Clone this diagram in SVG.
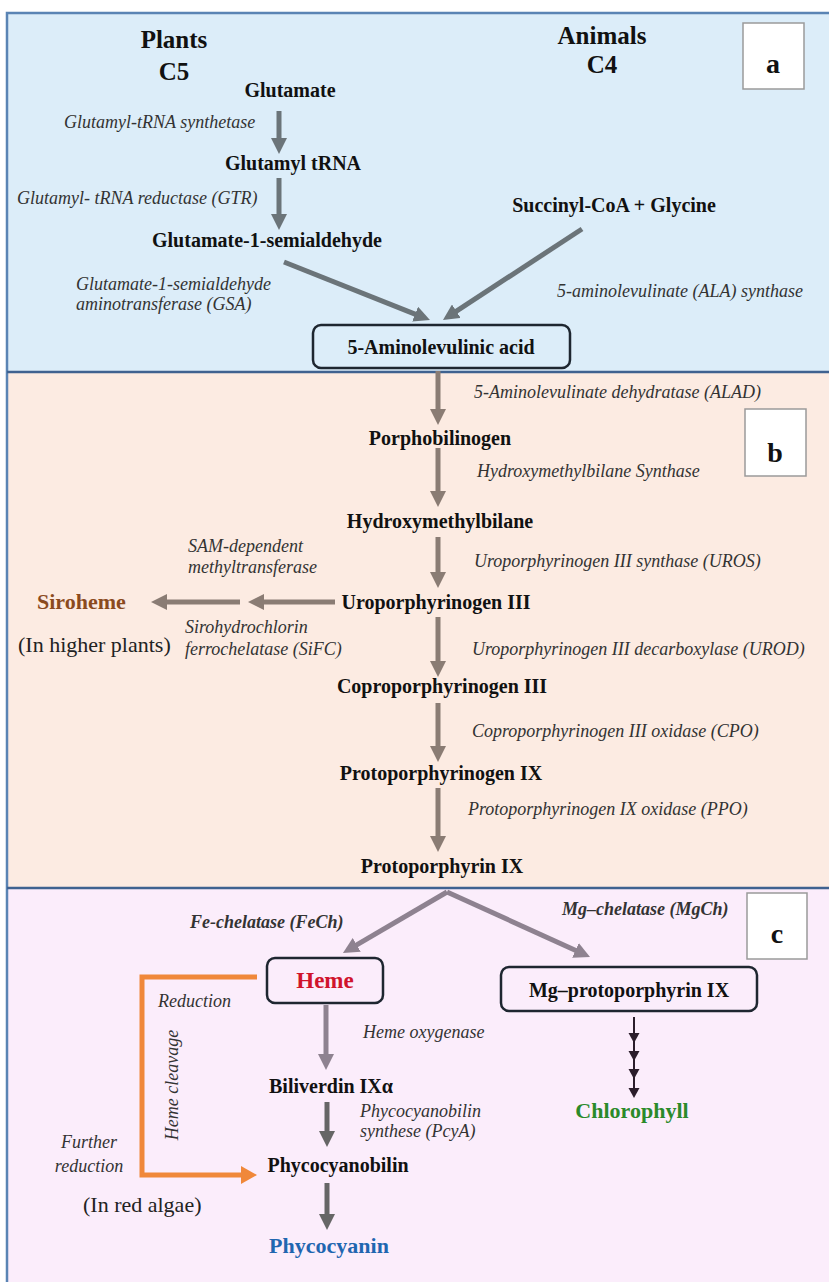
<svg xmlns="http://www.w3.org/2000/svg" width="829" height="1282" viewBox="0 0 829 1282">
<style>
text{font-family:"Liberation Serif","Tinos","Nimbus Roman","Times New Roman","DejaVu Serif",serif;}
.b{font-weight:bold;font-size:20px;fill:#111;}
.m{text-anchor:middle;}
.i{font-style:italic;font-size:18px;fill:#333;}
.r{font-size:22px;fill:#222;}
.hd{font-weight:bold;font-size:25px;fill:#111;text-anchor:middle;}
.lt{font-weight:bold;font-size:28px;fill:#111;text-anchor:middle;}
.lbox{fill:#fff;stroke:#9a9a9a;stroke-width:1.5;}
.nbox{stroke:#1e2630;stroke-width:2.5;}
.ga{stroke:#6b7479;stroke-width:5;fill:none;marker-end:url(#hg);}
.ba{stroke:#8a7c74;stroke-width:5;fill:none;marker-end:url(#hb);}
.pa{stroke:#8e8290;stroke-width:5;fill:none;marker-end:url(#hp);}
.da{stroke:#666;stroke-width:5;fill:none;marker-end:url(#hd);}
.oa{stroke:#f0883a;stroke-width:5;fill:none;marker-end:url(#ho);}
</style>
<defs>
<marker id="hg" markerUnits="userSpaceOnUse" markerWidth="16" markerHeight="16" refX="4" refY="8" orient="auto"><path d="M0,0 L16,8 L0,16 z" fill="#6b7479"/></marker>
<marker id="hb" markerUnits="userSpaceOnUse" markerWidth="16" markerHeight="16" refX="4" refY="8" orient="auto"><path d="M0,0 L16,8 L0,16 z" fill="#8a7c74"/></marker>
<marker id="hp" markerUnits="userSpaceOnUse" markerWidth="16" markerHeight="16" refX="4" refY="8" orient="auto"><path d="M0,0 L16,8 L0,16 z" fill="#8e8290"/></marker>
<marker id="hd" markerUnits="userSpaceOnUse" markerWidth="16" markerHeight="16" refX="4" refY="8" orient="auto"><path d="M0,0 L16,8 L0,16 z" fill="#666"/></marker>
<marker id="ho" markerUnits="userSpaceOnUse" markerWidth="16" markerHeight="18" refX="4" refY="9" orient="auto"><path d="M0,0 L16,9 L0,18 z" fill="#f0883a"/></marker>
</defs>

<g id="panels">
<rect x="7" y="13" width="824" height="359" fill="#dcedf9"/>
<rect x="7" y="372" width="824" height="516" fill="#fcebe2"/>
<rect x="7" y="888" width="824" height="400" fill="#fbedfb"/>
<path d="M7,1290 L7,13 L831,13" fill="none" stroke="#5a84b4" stroke-width="2.5"/>
<line x1="7" y1="372" x2="831" y2="372" stroke="#3f6290" stroke-width="2.5"/>
<line x1="7" y1="888" x2="831" y2="888" stroke="#3f6290" stroke-width="2.5"/>
</g>

<g id="connectors">
<line class="ga" x1="279" y1="111" x2="279" y2="142"/>
<line class="ga" x1="279" y1="178" x2="279" y2="218"/>
<line class="ga" x1="284" y1="262" x2="418.8" y2="315.6"/>
<line class="ga" x1="582" y1="229" x2="453" y2="313.4"/>
<line class="ba" x1="438" y1="371" x2="438" y2="413"/>
<line class="ba" x1="438" y1="448" x2="438" y2="495"/>
<line class="ba" x1="438" y1="537" x2="438" y2="576"/>
<line class="ba" x1="438" y1="617" x2="438" y2="665"/>
<line class="ba" x1="438" y1="703" x2="438" y2="750"/>
<line class="ba" x1="438" y1="788" x2="438" y2="840"/>
<line class="ba" x1="335" y1="602" x2="260" y2="602"/>
<line class="ba" x1="240" y1="602" x2="163" y2="602"/>
<path class="pa" d="M447,892 L353.3,946.9"/>
<path class="pa" d="M447,892 L579.1,952"/>
<line class="pa" x1="326" y1="1005" x2="326" y2="1058"/>
<line class="da" x1="327" y1="1102" x2="327" y2="1135"/>
<line class="da" x1="327" y1="1183" x2="327" y2="1218"/>
<polyline class="oa" points="257,977 142,977 142,1175 245,1175"/>
<line x1="634" y1="1017" x2="634" y2="1094" stroke="#2b1d2b" stroke-width="2"/>
<g fill="#2b1d2b">
<polygon points="628.5,1033 639.5,1033 634,1043"/>
<polygon points="628.5,1051 639.5,1051 634,1061"/>
<polygon points="628.5,1069 639.5,1069 634,1079"/>
<polygon points="628.5,1088 639.5,1088 634,1098"/>
</g>
</g>

<g id="headers">
<text class="hd" x="174" y="48">Plants</text>
<text class="hd" x="174" y="80">C5</text>
<text class="hd" x="602" y="44">Animals</text>
<text class="hd" x="602" y="73">C4</text>
</g>
<g id="label-a"><rect class="lbox" x="743" y="23" width="61" height="66"/><text class="lt" x="773" y="73">a</text></g>
<g id="label-b"><rect class="lbox" x="745" y="409" width="61" height="67"/><text class="lt" x="775" y="462">b</text></g>
<g id="label-c"><rect class="lbox" x="747" y="893" width="60" height="66"/><text class="lt" x="777" y="943">c</text></g>

<g id="glutamate"><text class="b m" x="290" y="97">Glutamate</text></g>
<g id="glutamyl-trna"><text class="b m" x="293" y="170">Glutamyl tRNA</text></g>
<g id="gsa-node"><text class="b m" x="267" y="247">Glutamate-1-semialdehyde</text></g>
<g id="succinyl"><text class="b m" x="614" y="212">Succinyl-CoA + Glycine</text></g>
<g id="ala"><rect class="nbox" x="313" y="325" width="257" height="43" rx="8" fill="#dcedf9"/><text class="b m" x="441" y="354">5-Aminolevulinic acid</text></g>
<g id="enz-a">
<text class="i" x="64" y="128">Glutamyl-tRNA synthetase</text>
<text class="i" x="17" y="204">Glutamyl- tRNA reductase (GTR)</text>
<text class="i" x="76" y="290">Glutamate-1-semialdehyde</text>
<text class="i" x="76" y="310">aminotransferase (GSA)</text>
<text class="i" x="557" y="297">5-aminolevulinate (ALA) synthase</text>
</g>

<g id="porphobilinogen"><text class="b m" x="440" y="445">Porphobilinogen</text></g>
<g id="hydroxymethylbilane"><text class="b m" x="440" y="528">Hydroxymethylbilane</text></g>
<g id="uroporphyrinogen"><text class="b m" x="436" y="609">Uroporphyrinogen III</text></g>
<g id="coproporphyrinogen"><text class="b m" x="442" y="693">Coproporphyrinogen III</text></g>
<g id="protoporphyrinogen"><text class="b m" x="441" y="780">Protoporphyrinogen IX</text></g>
<g id="protoporphyrin"><text class="b m" x="442" y="873">Protoporphyrin IX</text></g>
<g id="siroheme">
<text class="b" x="37" y="609" style="fill:#8b4a1e;font-size:22px">Siroheme</text>
<text class="r" x="18" y="652">(In higher plants)</text>
</g>
<g id="enz-b">
<text class="i" x="474" y="398">5-Aminolevulinate dehydratase (ALAD)</text>
<text class="i" x="477" y="477">Hydroxymethylbilane Synthase</text>
<text class="i" x="474" y="567">Uroporphyrinogen III synthase (UROS)</text>
<text class="i" x="188" y="552">SAM-dependent</text>
<text class="i" x="188" y="573">methyltransferase</text>
<text class="i" x="185" y="633">Sirohydrochlorin</text>
<text class="i" x="185" y="655">ferrochelatase (SiFC)</text>
<text class="i" x="472" y="655">Uroporphyrinogen III decarboxylase (UROD)</text>
<text class="i" x="472" y="737">Coproporphyrinogen III oxidase (CPO)</text>
<text class="i" x="468" y="815">Protoporphyrinogen IX oxidase (PPO)</text>
</g>

<g id="heme"><rect class="nbox" x="267" y="958" width="116" height="45" rx="8" fill="#fbedfb"/><text class="b m" x="325" y="988" style="fill:#d0142c;font-size:23px">Heme</text></g>
<g id="mg-proto"><rect class="nbox" x="501" y="967" width="256" height="44" rx="8" fill="#fbedfb"/><text class="b m" x="629" y="997">Mg–protoporphyrin IX</text></g>
<g id="biliverdin"><text class="b m" x="331" y="1093">Biliverdin IXα</text></g>
<g id="phycocyanobilin"><text class="b m" x="338" y="1172">Phycocyanobilin</text></g>
<g id="phycocyanin"><text class="b m" x="329" y="1253" style="fill:#1f66b0;font-size:22px">Phycocyanin</text></g>
<g id="chlorophyll"><text class="b m" x="632" y="1118" style="fill:#2a8a2a;font-size:22px">Chlorophyll</text></g>
<g id="enz-c">
<text class="i" x="190" y="928" style="font-weight:bold">Fe-chelatase (FeCh)</text>
<text class="i" x="562" y="915" style="font-weight:bold">Mg–chelatase (MgCh)</text>
<text class="i" x="158" y="1007">Reduction</text>
<text class="i m" transform="translate(178,1085) rotate(-90)">Heme cleavage</text>
<text class="i m" x="89" y="1148">Further</text>
<text class="i m" x="89" y="1172">reduction</text>
<text class="r" x="83" y="1212">(In red algae)</text>
<text class="i" x="363" y="1038">Heme oxygenase</text>
<text class="i" x="360" y="1117">Phycocyanobilin</text>
<text class="i" x="360" y="1137">synthese (PcyA)</text>
</g>
</svg>
